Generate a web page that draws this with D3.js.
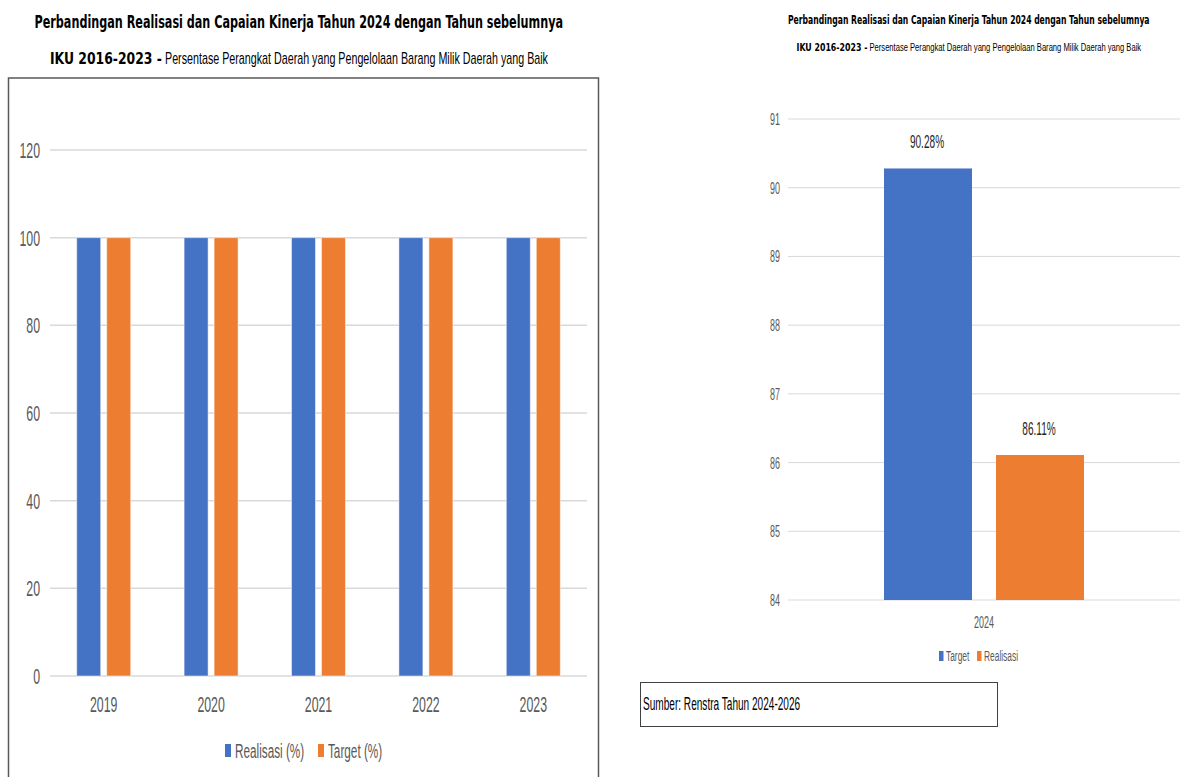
<!DOCTYPE html>
<html><head><meta charset="utf-8">
<script src="https://cdn.jsdelivr.net/npm/d3@7"></script>
<style>
html,body{margin:0;padding:0;background:#fff;}
svg{display:block;}
.narrow{font-family:"Liberation Sans",Arial,sans-serif;}
.ttl{font-family:"DejaVu Sans Condensed","Liberation Sans",sans-serif;}
</style></head>
<body>
<svg id="c" width="1180" height="777"></svg>
<script>
// ---- data ----
const titleMain = "Perbandingan Realisasi dan Capaian Kinerja Tahun 2024 dengan Tahun sebelumnya";
const titleBold = "IKU 2016-2023 -";
const titleRest = "Persentase Perangkat Daerah yang Pengelolaan Barang Milik Daerah yang Baik";

const years = ["2019", "2020", "2021", "2022", "2023"];
const realisasi = [100, 100, 100, 100, 100];
const target = [100, 100, 100, 100, 100];
const leftTicks = [0, 20, 40, 60, 80, 100, 120];
const leftSeries = ["Realisasi (%)", "Target (%)"];

const year2024 = ["2024"];
const target2024 = [90.28];
const realisasi2024 = [86.11];
const rightTicks = [84, 85, 86, 87, 88, 89, 90, 91];
const rightSeries = ["Target", "Realisasi"];
const source = "Sumber: Renstra Tahun 2024-2026";

const BLUE = "#4472C4", ORANGE = "#ED7D31";
const NS = 0.56; // horizontal squeeze to mimic the tall narrow font
const svg = d3.select("#c");

function ntext(parent, x, y, size, anchor, fill, txt) {
  return parent.append("text").attr("class","narrow")
    .attr("transform", `translate(${x},${y}) scale(${NS},1)`)
    .attr("text-anchor", anchor).attr("font-size", size).attr("fill", fill).text(txt);
}
// text squeezed horizontally to fit a given width
function fitText(cls, x, y, size, weight, w, txt) {
  const t = svg.append("text").attr("class", cls).attr("x", 0).attr("y", 0)
    .attr("font-size", size).attr("font-weight", weight).attr("fill", "#000").text(txt);
  const w0 = t.node().getComputedTextLength();
  t.attr("transform", `translate(${x},${y}) scale(${w / w0},1)`);
  return t;
}

// ---- titles ----
function titles(cx, y1, y2, size1, w1, size2, wBold, wRest, gap) {
  fitText("ttl", cx - w1/2, y1, size1, "bold", w1, titleMain);
  const total = wBold + gap + wRest;
  const x0 = cx - total/2;
  fitText("ttl", x0, y2, size2, "bold", wBold, titleBold);
  fitText("narrow", x0 + wBold + gap, y2, size2*1.05, "normal", wRest, titleRest);
}
titles(299, 28, 64, 18, 529, 16, 112, 383, 3);
titles(969, 24, 51, 12.5, 362, 11, 71, 272, 2);

// ---- left panel ----
svg.append("rect").attr("x", 8.5).attr("y", 78).attr("width", 590).attr("height", 720)
  .attr("fill","none").attr("stroke","#595959").attr("stroke-width", 1.5);

const xL = d3.scaleBand().domain(years).range([50, 587]).paddingInner(0).paddingOuter(0);
const yL = d3.scaleLinear().domain([0, 120]).range([676, 150]);
const gL = svg.append("g");
gL.append("g").selectAll("line").data(leftTicks).join("line")
  .attr("x1", 50).attr("x2", 587).attr("y1", d => yL(d)).attr("y2", d => yL(d))
  .attr("stroke", "#d9d9d9").attr("stroke-width", 1.5);
leftTicks.forEach(d => ntext(gL, 40, yL(d) + 8, 22, "end", "#595959", d));
const bw = 24, gapL = 6;
const grpL = gL.append("g").selectAll("g").data(years).join("g");
grpL.append("rect").attr("x", (d) => xL(d) + xL.bandwidth()/2 - gapL/2 - bw)
  .attr("y", (d,i) => yL(realisasi[i])).attr("width", bw)
  .attr("height", (d,i) => yL(0) - yL(realisasi[i])).attr("fill", BLUE)
  .attr("stroke","#fff").attr("stroke-opacity",0.5).attr("stroke-width",1);
grpL.append("rect").attr("x", (d) => xL(d) + xL.bandwidth()/2 + gapL/2)
  .attr("y", (d,i) => yL(target[i])).attr("width", bw)
  .attr("height", (d,i) => yL(0) - yL(target[i])).attr("fill", ORANGE)
  .attr("stroke","#fff").attr("stroke-opacity",0.5).attr("stroke-width",1);
years.forEach(d => ntext(gL, xL(d) + xL.bandwidth()/2, 712, 22, "middle", "#595959", d));
// legend left
const legL = [{t: leftSeries[0], c: BLUE, x: 225}, {t: leftSeries[1], c: ORANGE, x: 318}];
legL.forEach(l => {
  svg.append("rect").attr("x", l.x).attr("y", 744).attr("width", 6).attr("height", 13).attr("fill", l.c);
  ntext(svg, l.x + 10, 758, 21, "start", "#595959", l.t);
});

// ---- right panel ----
const xR = d3.scaleBand().domain(year2024).range([788, 1180]);
const yR = d3.scaleLinear().domain([84, 91]).range([600, 119]);
const gR = svg.append("g");
gR.append("g").selectAll("line").data(rightTicks).join("line")
  .attr("x1", 788).attr("x2", 1180).attr("y1", d => yR(d)).attr("y2", d => yR(d))
  .attr("stroke", "#d9d9d9").attr("stroke-width", 1);
rightTicks.forEach(d => ntext(gR, 780, yR(d) + 6, 16, "end", "#595959", d));
const bwR = 88, gapR = 24;
const cR = xR(year2024[0]) + xR.bandwidth()/2;
const barsR = [
  {v: target2024[0], c: BLUE, x: cR - gapR/2 - bwR},
  {v: realisasi2024[0], c: ORANGE, x: cR + gapR/2}
];
gR.selectAll("rect.b").data(barsR).join("rect").attr("class","b")
  .attr("x", d => d.x).attr("y", d => yR(d.v)).attr("width", bwR)
  .attr("height", d => yR(84) - yR(d.v)).attr("fill", d => d.c);
barsR.forEach(d => ntext(gR, d.x + bwR/2 - 1, yR(d.v) - 20, 18, "middle", "#262626", d.v.toFixed(2) + "%"));
ntext(gR, cR, 628, 16, "middle", "#595959", year2024[0]);
const legR = [{t: rightSeries[0], c: BLUE, x: 939}, {t: rightSeries[1], c: ORANGE, x: 977}];
legR.forEach(l => {
  svg.append("rect").attr("x", l.x).attr("y", 651).attr("width", 4.5).attr("height", 10).attr("fill", l.c);
  ntext(svg, l.x + 7, 661, 15, "start", "#595959", l.t);
});
// source box
svg.append("rect").attr("x", 640.5).attr("y", 682.5).attr("width", 357).attr("height", 44)
  .attr("fill","#fff").attr("stroke","#404040").attr("stroke-width",1);
ntext(svg, 643, 710, 18, "start", "#000", source);
</script>
</body></html>
